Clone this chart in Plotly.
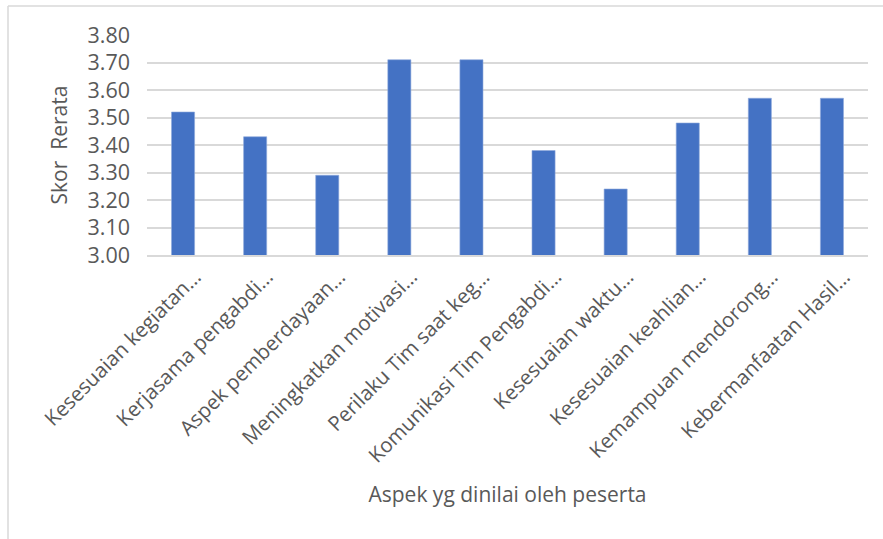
import plotly.graph_objects as go

categories = [
    "Kesesuaian kegiatan…",
    "Kerjasama pengabdi…",
    "Aspek pemberdayaan…",
    "Meningkatkan motivasi…",
    "Perilaku Tim saat keg…",
    "Komunikasi Tim Pengabdi…",
    "Kesesuaian waktu…",
    "Kesesuaian keahlian…",
    "Kemampuan mendorong…",
    "Kebermanfaatan Hasil…",
]
scores = [3.52, 3.43, 3.29, 3.71, 3.71, 3.38, 3.24, 3.48, 3.57, 3.57]
y_ticks = [3.00, 3.10, 3.20, 3.30, 3.40, 3.50, 3.60, 3.70, 3.80]

FONT = "Open Sans"
TXT = "#595959"

W, H = 883, 539
ML, MR, MT, MB = 147, 15, 35, 284
PW, PH = W - ML - MR, H - MT - MB

fig = go.Figure(
    go.Bar(
        x=categories,
        y=scores,
        marker=dict(color="#4472C4", line=dict(color="#8FAADC", width=0.6)),
        width=0.32,
    )
)

# chart frame (left and top edges) in paper coordinates
bx = (8 - ML) / PW
ty = 1 + (MT - 6) / PH
by = (MT + PH - H - 5) / PH
fig.add_shape(type="line", xref="paper", yref="paper", x0=bx, x1=bx, y0=by, y1=ty,
              line=dict(color="#D9D9D9", width=1.5))
fig.add_shape(type="line", xref="paper", yref="paper", x0=bx, x1=1 + (MR + 5) / PW, y0=ty, y1=ty,
              line=dict(color="#D9D9D9", width=1.5))

fig.update_layout(
    width=W, height=H,
    margin=dict(l=ML, r=MR, t=MT, b=MB),
    paper_bgcolor="white", plot_bgcolor="white",
    font=dict(family=FONT, color=TXT, size=20),
    showlegend=False,
    bargap=0.68,
)
fig.update_xaxes(
    tickangle=-45, tickfont=dict(size=20.5, color=TXT, family=FONT),
    showgrid=False, showline=True, linecolor="#D9D9D9", linewidth=1.5,
    ticks="", ticklabelstandoff=0, ticklabelshift=12,
    title=dict(text="Aspek yg dinilai oleh peserta", font=dict(size=21, color=TXT), standoff=20),
)
fig.update_yaxes(
    range=[3.0, 3.8], tickvals=y_ticks, tickformat=".2f",
    tickfont=dict(size=21.5, color=TXT, family=FONT),
    showgrid=True, gridcolor="#D9D9D9", gridwidth=1.5,
    zeroline=False, showline=False, ticks="", ticklabelstandoff=16,
    title=dict(text="Skor  Rerata", font=dict(size=21, color=TXT), standoff=14),
)

fig.write_html("out.html")
